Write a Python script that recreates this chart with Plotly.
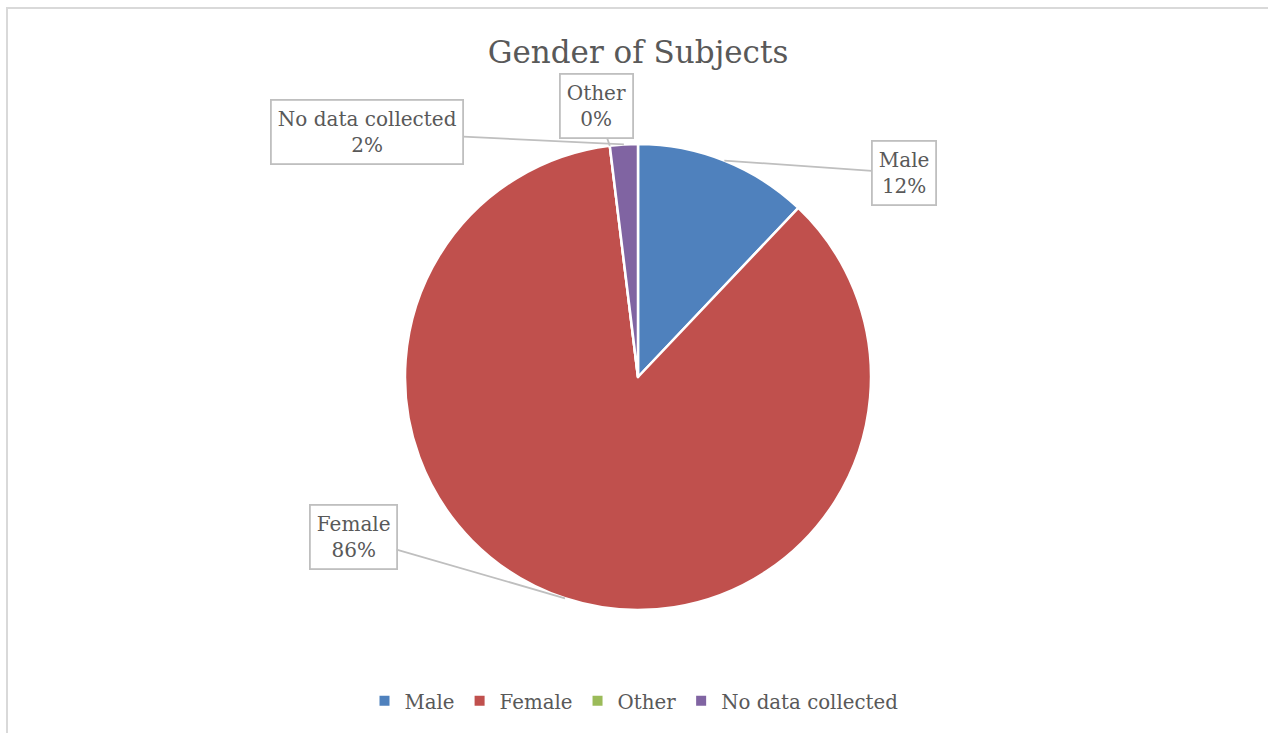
import math
import plotly.graph_objects as go

categories = ["Male", "Female", "Other", "No data collected"]
counts = [25, 178, 0, 4]
pct_labels = ["12%", "86%", "0%", "2%"]
colors = ["#4F81BD", "#C0504D", "#9BBB59", "#8064A2"]

W, H = 1268, 733
FONT = "DejaVu Serif"
TXT = "#595959"

# pie geometry in pixels
cx, cy, R = 638, 377, 233
dom_x = [(cx - R) / W, (cx + R) / W]
dom_y = [(H - (cy + R)) / H, (H - (cy - R)) / H]

fig = go.Figure(go.Pie(
    labels=categories, values=counts, sort=False, direction="clockwise",
    rotation=0, marker=dict(colors=colors, line=dict(color="white", width=2.5)),
    textinfo="none", hoverinfo="label+percent", domain=dict(x=dom_x, y=dom_y),
    showlegend=True,
))

# label box centres (pixels)
box_pos = {"Male": (904, 173), "Female": (353, 537), "Other": (596, 106),
           "No data collected": (367, 132)}

total = sum(counts)
cum = 0
annotations = []
for cat, v, p in zip(categories, counts, pct_labels):
    mid = (cum + v / 2) / total
    cum += v
    ang = 2 * math.pi * mid
    tx = cx + R * math.sin(ang)
    ty = cy - R * math.cos(ang)
    bx, by = box_pos[cat]
    annotations.append(dict(
        x=tx / W, y=1 - ty / H, xref="paper", yref="paper",
        ax=bx - tx, ay=by - ty, axref="pixel", ayref="pixel",
        text=f"{cat}<br>{p}", showarrow=True, arrowhead=0, arrowwidth=1.8,
        arrowcolor="#BFBFBF", bordercolor="#BFBFBF", borderwidth=1.8,
        borderpad=6, bgcolor="white", font=dict(family=FONT, size=20, color=TXT),
    ))

fig.update_layout(
    width=W, height=H, margin=dict(l=0, r=0, t=0, b=0),
    paper_bgcolor="white", plot_bgcolor="white",
    title=dict(text="Gender of Subjects", x=cx / W, xanchor="center",
               y=1 - 52 / H, yanchor="middle",
               font=dict(family=FONT, size=31, color=TXT)),
    legend=dict(orientation="h", x=0.5, xanchor="center", y=1 - 701 / H,
                yanchor="middle", font=dict(family=FONT, size=19.8, color=TXT),
                itemsizing="constant", traceorder="normal"),
    annotations=annotations,
    shapes=[dict(type="rect", xref="paper", yref="paper", x0=7 / W, x1=1.01,
                 y0=-0.01, y1=1 - 8 / H, line=dict(color="#D9D9D9", width=2),
                 layer="below")],
)

fig.write_html("out.html")
